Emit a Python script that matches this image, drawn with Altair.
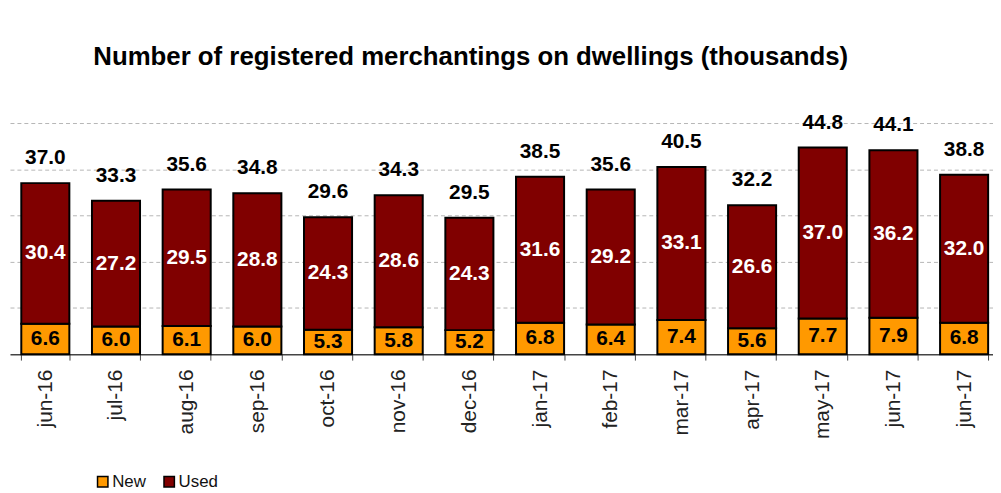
import altair as alt
import pandas as pd

months = ["jun-16", "jul-16", "aug-16", "sep-16", "oct-16", "nov-16", "dec-16",
          "jan-17", "feb-17", "mar-17", "apr-17", "may-17", "jun-17", "jun-17"]
new_vals = [6.6, 6.0, 6.1, 6.0, 5.3, 5.8, 5.2, 6.8, 6.4, 7.4, 5.6, 7.7, 7.9, 6.8]
used_vals = [30.4, 27.2, 29.5, 28.8, 24.3, 28.6, 24.3, 31.6, 29.2, 33.1, 26.6, 37.0, 36.2, 32.0]
totals = [37.0, 33.3, 35.6, 34.8, 29.6, 34.3, 29.5, 38.5, 35.6, 40.5, 32.2, 44.8, 44.1, 38.8]

df = pd.DataFrame({
    "idx": list(range(len(months))),
    "month": months,
    "New": new_vals,
    "Used": used_vals,
    "total": totals,
})

FONT = "Liberation Sans"
label_expr = "[" + ",".join("'" + m + "'" for m in months) + "][datum.value]"

x_enc = alt.X(
    "idx:O",
    title=None,
    scale=alt.Scale(range=[0, 997.5], paddingInner=0.32, paddingOuter=0.16),
    axis=alt.Axis(
        labelExpr=label_expr, labelAngle=-90, labelFont=FONT, labelFontSize=21,
        labelColor="#222222", labelPadding=9, tickBand="extent", tickSize=6,
        tickColor="#444444", domainColor="#444444", domainWidth=1.5, grid=False,
    ),
)
y_scale = alt.Scale(domain=[0, 50], nice=False)

base = alt.Chart(df)

bars = base.transform_fold(["New", "Used"], as_=["cat", "val"]).transform_calculate(
    ord="datum.cat == 'New' ? 0 : 1"
).mark_bar(stroke="black", strokeWidth=2).encode(
    x=x_enc,
    y=alt.Y("sum(val):Q", stack="zero", scale=y_scale, title=None,
            axis=alt.Axis(values=[10, 20, 30, 40, 50], labels=False, ticks=False,
                          domain=False, grid=True, gridColor="#b5b5b5",
                          gridDash=[4, 3], gridWidth=1)),
    color=alt.Color("cat:N", scale=alt.Scale(domain=["New", "Used"], range=["#FF9900", "#800000"]),
                    legend=alt.Legend(title=None, orient="none", legendX=85, legendY=353,
                                      direction="horizontal", symbolType="square",
                                      symbolSize=110, symbolStrokeColor="black",
                                      symbolStrokeWidth=1.5, labelFont=FONT,
                                      labelFontSize=17, labelColor="#111111",
                                      labelOffset=1, columnPadding=14, padding=0)),
    order=alt.Order("ord:Q"),
)

text_style = dict(font=FONT, fontSize=21, fontWeight="bold", baseline="middle", align="center")

new_text = base.transform_calculate(ym="datum.New / 2").mark_text(color="black", **text_style).encode(
    x=x_enc, y=alt.Y("ym:Q", scale=y_scale), text=alt.Text("New:Q", format=".1f"))

used_text = base.transform_calculate(ym="datum.New + datum.Used / 2").mark_text(color="white", **text_style).encode(
    x=x_enc, y=alt.Y("ym:Q", scale=y_scale), text=alt.Text("Used:Q", format=".1f"))

total_text = base.transform_calculate(ym="datum.New + datum.Used").mark_text(color="black", dy=-25, **text_style).encode(
    x=x_enc, y=alt.Y("ym:Q", scale=y_scale), text=alt.Text("total:Q", format=".1f"))

chart = alt.layer(bars, new_text, used_text, total_text).properties(
    width=991, height=233,
    title=alt.TitleParams("Number of registered merchantings on dwellings (thousands)",
                          font=FONT, fontSize=26, fontWeight="bold", color="black",
                          anchor="middle", dx=-31, offset=42),
    autosize=alt.AutoSizeParams(type="none"),
    padding={"left": 2, "top": 114, "right": 0, "bottom": 138},
).configure_view(stroke=None)

chart.save("out.html", embed_options={"renderer": "svg", "actions": False})
